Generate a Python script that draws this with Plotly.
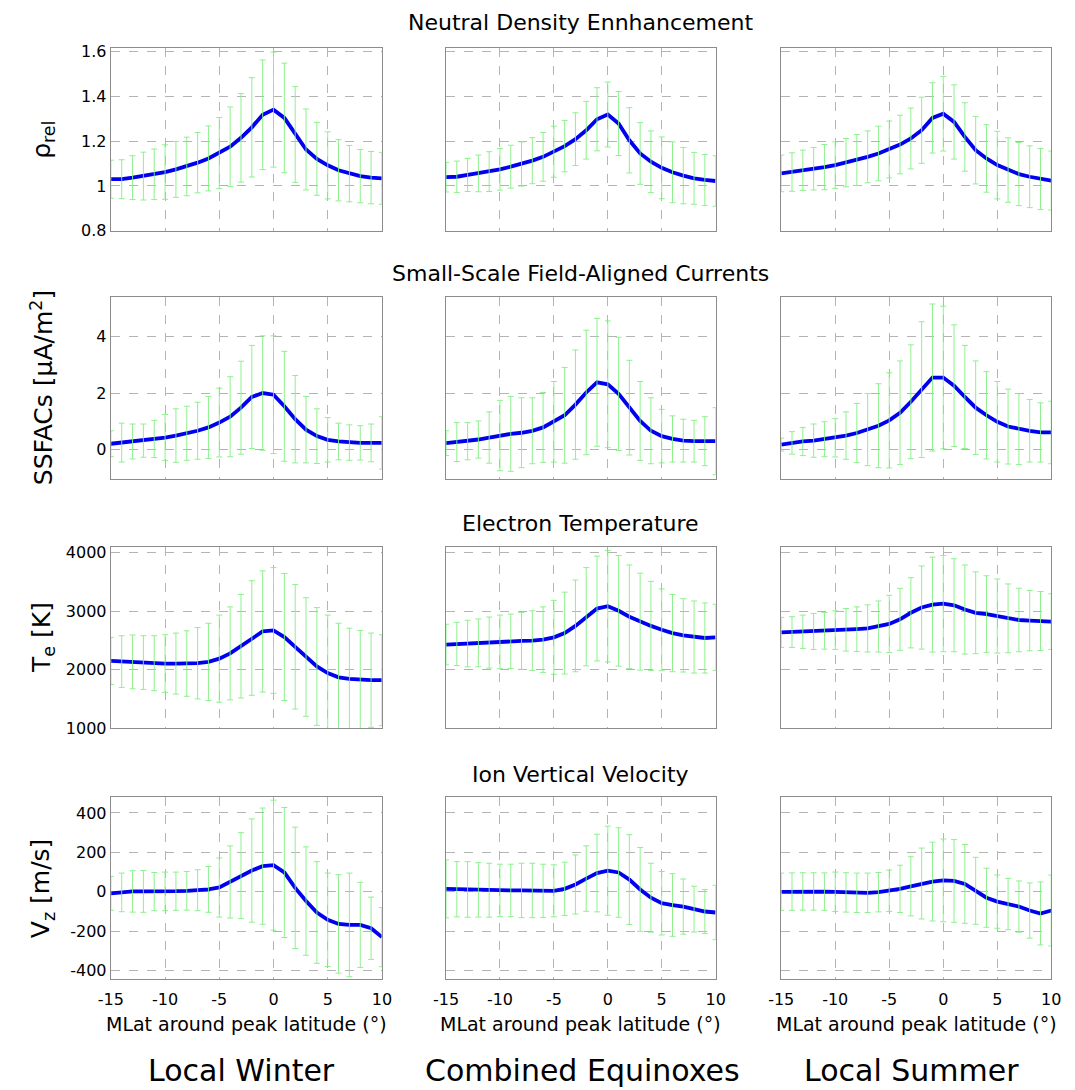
import plotly.graph_objects as go

# ---------------- data ----------------
mlat = list(range(-15, 11))

columns = ["Local Winter", "Combined Equinoxes", "Local Summer"]
row_titles = ["Neutral Density Ennhancement", "Small-Scale Field-Aligned Currents",
              "Electron Temperature", "Ion Vertical Velocity"]
y_titles = ["ρ<sub>rel</sub>", "SSFACs [μA/m<sup>2</sup>]", "T<sub>e</sub> [K]", "V<sub>z</sub> [m/s]"]
x_title = "MLat around peak latitude (°)"

# Neutral density enhancement (rho_rel)
rho_winter = [1.03, 1.03, 1.037, 1.044, 1.052, 1.062, 1.074, 1.087, 1.104, 1.123, 1.147, 1.175, 1.215,
              1.262, 1.318, 1.341, 1.304, 1.23, 1.163, 1.121, 1.092, 1.07, 1.055, 1.044, 1.037, 1.034]
rho_winter_sd = [0.085, 0.087, 0.098, 0.107, 0.113, 0.122, 0.125, 0.131, 0.135, 0.145, 0.159, 0.178, 0.198,
                 0.222, 0.245, 0.257, 0.245, 0.214, 0.181, 0.163, 0.15, 0.137, 0.126, 0.119, 0.117, 0.116]
rho_equinox = [1.039, 1.041, 1.049, 1.056, 1.064, 1.074, 1.086, 1.098, 1.113, 1.13, 1.153, 1.178, 1.209,
               1.249, 1.298, 1.319, 1.279, 1.204, 1.145, 1.108, 1.081, 1.061, 1.046, 1.034, 1.027, 1.022]
rho_equinox_sd = [0.066, 0.07, 0.074, 0.082, 0.089, 0.093, 0.096, 0.099, 0.103, 0.109, 0.114, 0.115, 0.118,
                  0.129, 0.141, 0.145, 0.143, 0.146, 0.138, 0.138, 0.138, 0.136, 0.126, 0.116, 0.114, 0.113]
rho_summer = [1.056, 1.062, 1.07, 1.077, 1.084, 1.093, 1.104, 1.116, 1.13, 1.145, 1.163, 1.185, 1.212,
              1.249, 1.304, 1.323, 1.286, 1.219, 1.16, 1.123, 1.093, 1.071, 1.053, 1.041, 1.031, 1.024]
rho_summer_sd = [0.082, 0.086, 0.09, 0.095, 0.101, 0.104, 0.108, 0.114, 0.116, 0.122, 0.127, 0.131, 0.136,
                 0.148, 0.157, 0.167, 0.166, 0.153, 0.151, 0.151, 0.151, 0.144, 0.141, 0.138, 0.136, 0.132]

# Small-scale FACs
fac_winter = [0.2, 0.24, 0.28, 0.31, 0.37, 0.42, 0.49, 0.57, 0.66, 0.78, 0.95, 1.16, 1.48,
              1.86, 2.0, 1.94, 1.53, 1.07, 0.7, 0.47, 0.34, 0.28, 0.24, 0.23, 0.23, 0.23]
fac_winter_sd = [0.46, 0.69, 0.62, 0.59, 0.66, 0.82, 0.95, 0.96, 1.01, 1.1, 1.22, 1.42, 1.65,
                 1.83, 2.03, 2.09, 1.95, 1.55, 1.18, 0.97, 0.79, 0.65, 0.63, 0.61, 0.67, 0.93]
fac_equinox = [0.22, 0.26, 0.29, 0.35, 0.42, 0.49, 0.55, 0.59, 0.66, 0.78, 0.98, 1.21, 1.59,
               2.02, 2.38, 2.31, 1.97, 1.48, 1.01, 0.66, 0.47, 0.37, 0.31, 0.29, 0.29, 0.29]
fac_equinox_sd = [0.44, 0.69, 0.66, 0.66, 0.91, 1.25, 1.33, 1.24, 1.17, 1.24, 1.43, 1.7, 1.94,
                  2.21, 2.27, 2.25, 2.01, 1.68, 1.4, 1.17, 0.95, 0.82, 0.76, 0.74, 0.87, 1.19]
fac_summer = [0.17, 0.23, 0.28, 0.31, 0.36, 0.41, 0.49, 0.58, 0.7, 0.84, 1.03, 1.3, 1.69,
              2.12, 2.55, 2.55, 2.26, 1.86, 1.48, 1.21, 0.98, 0.81, 0.72, 0.66, 0.6, 0.6]
fac_summer_sd = [0.23, 0.4, 0.5, 0.59, 0.62, 0.68, 0.84, 1.05, 1.28, 1.49, 1.69, 1.84, 2.02,
                 2.41, 2.61, 2.53, 2.16, 1.83, 1.66, 1.55, 1.43, 1.33, 1.26, 1.11, 1.05, 1.11]

# Electron temperature
te_winter = [2151, 2140, 2134, 2123, 2112, 2106, 2106, 2106, 2112, 2134, 2190, 2280, 2403,
             2543, 2655, 2672, 2560, 2392, 2218, 2056, 1944, 1871, 1843, 1826, 1821, 1821]
te_winter_sd = [403, 442, 460, 459, 470, 493, 521, 560, 610, 661, 745, 795, 885,
                980, 1036, 1075, 1086, 1064, 1014, 1008, 991, 924, 868, 846, 806, 778]
te_equinox = [2431, 2442, 2448, 2459, 2465, 2476, 2487, 2493, 2498, 2515, 2554, 2627, 2750,
              2907, 3047, 3086, 3008, 2907, 2823, 2750, 2683, 2627, 2588, 2560, 2543, 2554]
te_equinox_sd = [347, 370, 398, 409, 437, 459, 465, 487, 510, 560, 633, 700, 784,
                 840, 896, 952, 946, 885, 829, 762, 700, 661, 627, 616, 599, 566]
te_summer = [2638, 2644, 2650, 2655, 2666, 2678, 2683, 2694, 2706, 2739, 2784, 2862, 2974,
             3064, 3114, 3131, 3103, 3030, 2974, 2952, 2918, 2879, 2851, 2840, 2834, 2823]
te_summer_sd = [258, 263, 285, 308, 314, 330, 364, 381, 403, 437, 488, 530, 600,
                711, 812, 823, 795, 762, 700, 655, 633, 588, 543, 515, 504, 476]

# Ion vertical velocity
vz_winter = [-8, -3, 2, 2, 1, 2, 3, 5, 8, 12, 22, 50, 82,
             108, 130, 135, 98, 20, -47, -105, -142, -163, -168, -168, -185, -230]
vz_winter_sd = [86, 98, 105, 106, 97, 98, 97, 98, 104, 116, 150, 183, 218,
                262, 295, 330, 330, 308, 275, 258, 237, 250, 263, 216, 158, 150]
vz_equinox = [15, 13, 12, 10, 8, 7, 7, 7, 7, 5, 5, 15, 37,
              67, 95, 107, 98, 62, 12, -30, -58, -67, -75, -88, -100, -105]
vz_equinox_sd = [147, 140, 141, 138, 137, 133, 133, 138, 138, 135, 132, 135, 150,
                 166, 197, 226, 227, 228, 213, 175, 161, 159, 140, 116, 112, 138]
vz_summer = [0, 1, 2, 2, 1, 0, -3, -5, -5, -2, 5, 15, 28,
             42, 52, 58, 55, 40, 5, -30, -50, -62, -75, -95, -110, -95]
vz_summer_sd = [95, 95, 95, 95, 95, 100, 100, 100, 100, 100, 105, 120, 150,
                180, 200, 210, 210, 200, 170, 150, 135, 130, 130, 140, 160, 180]

means = [[rho_winter, rho_equinox, rho_summer],
         [fac_winter, fac_equinox, fac_summer],
         [te_winter, te_equinox, te_summer],
         [vz_winter, vz_equinox, vz_summer]]
sds = [[rho_winter_sd, rho_equinox_sd, rho_summer_sd],
       [fac_winter_sd, fac_equinox_sd, fac_summer_sd],
       [te_winter_sd, te_equinox_sd, te_summer_sd],
       [vz_winter_sd, vz_equinox_sd, vz_summer_sd]]

y_ranges = [[0.8, 1.615], [-1.05, 5.42], [1000, 4100], [-440, 480]]
y_tickvals = [[0.8, 1.0, 1.2, 1.4, 1.6], [0, 2, 4], [1000, 2000, 3000, 4000], [-400, -200, 0, 200, 400]]
y_ticktext = [["0.8", "1", "1.2", "1.4", "1.6"], ["0", "2", "4"],
              ["1000", "2000", "3000", "4000"], ["-400", "-200", "0", "200", "400"]]
x_tickvals = [-15, -10, -5, 0, 5, 10]
x_ticktext = ["-15", "-10", "-5", "0", "5", "10"]

# ---------------- layout geometry (pixels) ----------------
W, H = 1075, 1090
col_px = [(100, 377), (442.5, 718), (785, 1061)]
row_px = [(43, 228), (295, 480), (549, 733), (803, 987)]
title_y_px = [17, 271, 525, 780]

FONT = "DejaVu Sans"
GRID = "#b4b4b4"
FRAME = "#8c8c8c"
LINE_BLUE = "#0000f0"
ERR_GREEN = "rgba(130,240,130,0.9)"

fig = go.Figure()
layout = dict(width=W, height=H, margin=dict(l=0, r=0, t=0, b=0),
              paper_bgcolor="white", plot_bgcolor="white", showlegend=False,
              font=dict(family=FONT, color="black"))
annotations = []

k = 0
for r in range(4):
    for c in range(3):
        k += 1
        xa = "xaxis" if k == 1 else f"xaxis{k}"
        ya = "yaxis" if k == 1 else f"yaxis{k}"
        xref = "x" if k == 1 else f"x{k}"
        yref = "y" if k == 1 else f"y{k}"
        x0, x1 = col_px[c]
        y0, y1 = row_px[r]
        layout[xa] = dict(domain=[x0 / W, x1 / W], range=[-15, 10], anchor=yref,
                          tickvals=x_tickvals, ticktext=x_ticktext,
                          showticklabels=(r == 3), ticks="", tickfont=dict(size=16, family=FONT),
                          ticklabelstandoff=6,
                          showgrid=True, gridcolor=GRID, griddash="dash", gridwidth=1,
                          zeroline=False, showline=True, linecolor=FRAME, linewidth=1.2, mirror=True)
        layout[ya] = dict(domain=[1 - y1 / H, 1 - y0 / H], range=y_ranges[r], anchor=xref,
                          tickvals=y_tickvals[r], ticktext=y_ticktext[r],
                          showticklabels=(c == 0), ticks="", tickfont=dict(size=16, family=FONT),
                          showgrid=True, gridcolor=GRID, griddash="dash", gridwidth=1,
                          zeroline=False, showline=True, linecolor=FRAME, linewidth=1.2, mirror=True)
        # mean curve
        fig.add_trace(go.Scatter(x=mlat, y=means[r][c], mode="lines",
                                 line=dict(color=LINE_BLUE, width=3.8),
                                 xaxis=xref, yaxis=yref, hoverinfo="skip"))
        # error bars
        fig.add_trace(go.Scatter(x=mlat, y=means[r][c], mode="markers",
                                 marker=dict(size=1, color="rgba(0,0,0,0)"),
                                 error_y=dict(type="data", array=sds[r][c], visible=True,
                                              color=ERR_GREEN, thickness=1, width=3),
                                 xaxis=xref, yaxis=yref, hoverinfo="skip"))
        if r == 3:
            annotations.append(dict(text=x_title, x=(x0 + x1) / 2 / W, y=1 - 1033 / H,
                                    xref="paper", yref="paper", showarrow=False,
                                    font=dict(size=19, family=FONT), xanchor="center", yanchor="middle"))

    # row title
    annotations.append(dict(text=row_titles[r], x=580 / W, y=1 - title_y_px[r] / H,
                            xref="paper", yref="paper", showarrow=False,
                            font=dict(size=22, family=FONT), xanchor="center", yanchor="middle"))
    # y-axis title
    y0, y1 = row_px[r]
    annotations.append(dict(text=y_titles[r], x=30 / W, y=1 - (y0 + y1) / 2 / H,
                            xref="paper", yref="paper", showarrow=False, textangle=-90,
                            font=dict(size=25, family=FONT), xanchor="center", yanchor="middle"))

# column labels at bottom
for c, name in enumerate(columns):
    cx = [233, 582, 918][c]
    annotations.append(dict(text=name, x=cx / W, y=1 - 1080 / H, xref="paper", yref="paper",
                            showarrow=False, font=dict(size=30, family=FONT),
                            xanchor="center", yanchor="middle"))

layout["annotations"] = annotations
fig.update_layout(**layout)
fig.write_html("out.html")
